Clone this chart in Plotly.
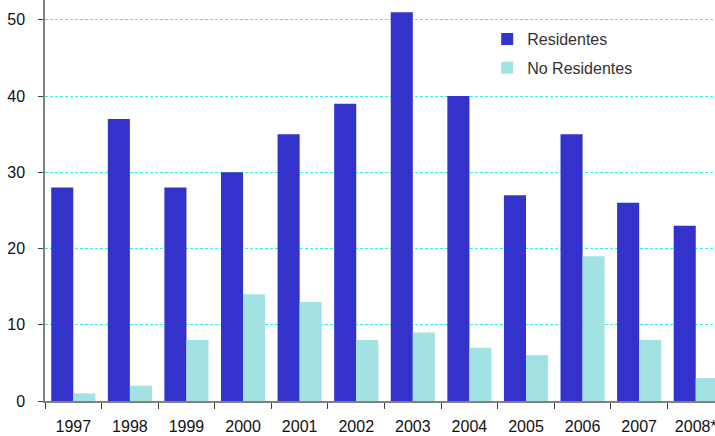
import plotly.graph_objects as go

# Annual values per group
years = ["1997", "1998", "1999", "2000", "2001", "2002", "2003",
         "2004", "2005", "2006", "2007", "2008*"]
residentes = [28, 37, 28, 30, 35, 39, 51, 40, 27, 35, 26, 23]
no_residentes = [1, 2, 8, 14, 13, 8, 9, 7, 6, 19, 8, 3]
y_ticks = [0, 10, 20, 30, 40, 50]

fig = go.Figure()
fig.add_trace(go.Bar(x=years, y=residentes, name="Residentes", legendgroup="r",
                     marker=dict(color="#3333CC", line=dict(width=0))))
fig.add_trace(go.Bar(x=years, y=no_residentes, name="No Residentes", legendgroup="n",
                     marker=dict(color="#A3E2E2", line=dict(width=0))))

fig.update_layout(
    width=715, height=436,
    margin=dict(l=45, r=0, t=0, b=35),
    paper_bgcolor="white", plot_bgcolor="white",
    barmode="group", bargap=0.22, bargroupgap=0,
    font=dict(family="Liberation Sans, Arial, sans-serif", size=16, color="#111111"),
    legend=dict(x=0.66, y=0.945, xanchor="left", yanchor="top",
                bgcolor="rgba(0,0,0,0)", font=dict(size=16, color="#333333"),
                itemwidth=30, tracegroupgap=5),
    showlegend=True,
)
fig.update_xaxes(
    type="category", range=[-0.5, 11.34], automargin=False,
    showline=True, linecolor="#808080", linewidth=1.5,
    ticks="outside", tickson="boundaries", ticklen=6, tickcolor="#404040",
    ticklabelstandoff=10,
    showgrid=False,
)
fig.update_yaxes(
    range=[0, 52.6], tickvals=y_ticks, automargin=False,
    showline=True, linecolor="#808080", linewidth=1.5,
    ticks="outside", ticklen=5, tickcolor="#404040",
    ticklabelstandoff=10,
    showgrid=True, gridcolor="#33F0F0", griddash="3px,2px", gridwidth=1,
    zeroline=False,
)

fig.write_html("out.html")
